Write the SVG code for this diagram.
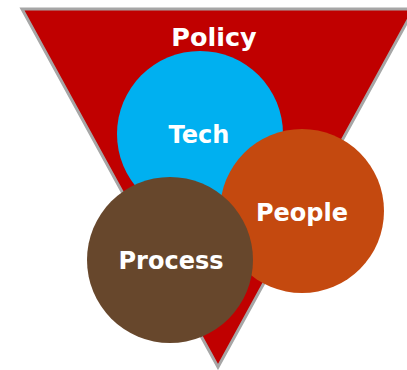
<svg xmlns="http://www.w3.org/2000/svg" width="407" height="370" viewBox="0 0 407 370">
<style>
.lbl{font-family:"DejaVu Sans",Verdana,sans-serif;font-weight:bold;fill:#fff;text-anchor:middle}
</style>
<rect width="407" height="370" fill="#fff"/>
<g id="policy">
<polygon points="22,9 414,9 218,367" fill="#C00000" stroke="#A6A6A6" stroke-width="3" stroke-linejoin="miter"/>
<text class="lbl" x="214" y="46" font-size="25.5">Policy</text>
</g>
<g id="tech">
<circle cx="200" cy="134" r="83" fill="#00B0F0"/>
<text class="lbl" x="199" y="143" font-size="24">Tech</text>
</g>
<g id="people">
<circle cx="302" cy="211" r="82" fill="#C4490F"/>
<text class="lbl" x="302" y="221" font-size="24">People</text>
</g>
<g id="process">
<circle cx="170" cy="260" r="83" fill="#67472C"/>
<text class="lbl" x="171" y="269" font-size="24">Process</text>
</g>
<g id="connectors"></g>
</svg>
